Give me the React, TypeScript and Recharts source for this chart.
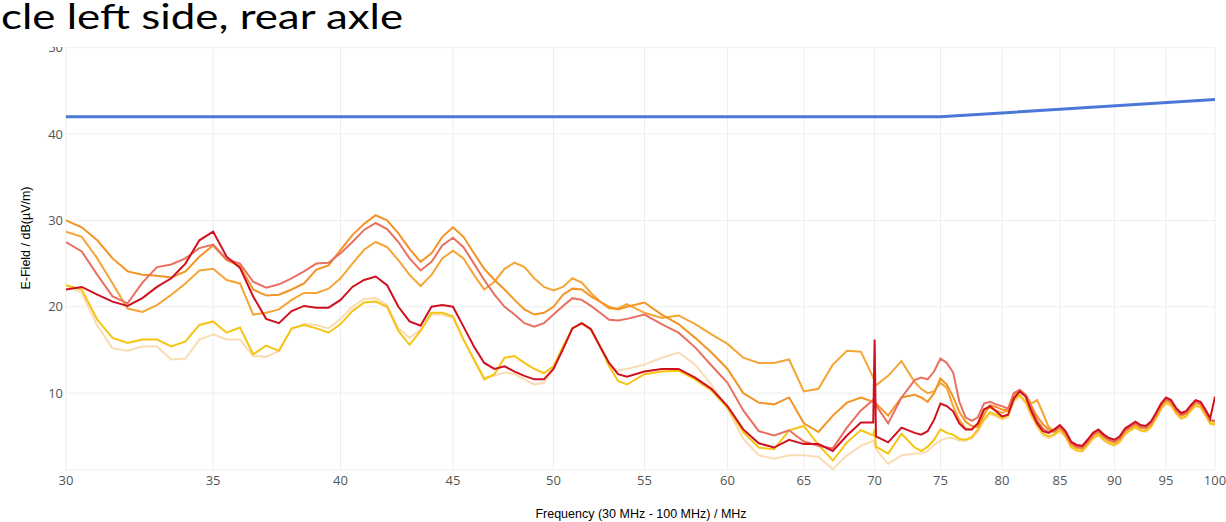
import React from 'react';
import { LineChart, Line, XAxis, YAxis, CartesianGrid } from 'recharts';

// frequency grid in MHz (log axis)
const freqs = [
  30, 30.5, 31, 31.5, 32, 32.5, 33, 33.5, 34, 34.5,
  35, 35.5, 36, 36.5, 37, 37.5, 38, 38.5, 39, 39.5,
  40, 40.5, 41, 41.5, 42, 42.5, 43, 43.5, 44, 44.5,
  45, 45.5, 46, 46.5, 47, 47.5, 48, 48.5, 49, 49.5,
  50, 50.5, 51, 51.5, 52, 52.5, 53, 53.5, 54,
  55, 56, 57, 58, 59, 60, 61, 62, 63, 64, 65, 66, 67, 68, 69,
  69.9, 70, 70.1, 71, 72, 73,
  73.5, 74, 74.5, 75, 75.5, 76, 76.5, 77, 77.5, 78, 78.5, 79, 79.5, 80, 80.5, 81, 81.5, 82, 82.5, 83, 83.5, 84,
  84.5, 85, 85.5, 86, 86.5, 87, 87.5, 88, 88.5, 89, 89.5, 90, 90.5, 91, 91.5, 92,
  92.5, 93, 93.5, 94, 94.5, 95, 95.5, 96, 96.5, 97, 97.5, 98, 98.5, 99, 99.5, 100,
];

const red = [
  22.0, 22.3, 21.4, 20.6, 20.1, 21.0, 22.3, 23.3, 25.0, 27.7,
  28.7, 25.8, 24.5, 21.2, 18.6, 18.1, 19.5, 20.1, 19.9, 19.9,
  20.8, 22.3, 23.1, 23.5, 22.5, 20.0, 18.3, 17.8, 20.0, 20.2,
  20.0, 17.7, 15.4, 13.5, 12.8, 13.1, 12.5, 12.0, 11.6, 11.6,
  12.8, 15.1, 17.5, 18.1, 17.4, 15.4, 13.5, 12.2, 11.9,
  12.5, 12.8, 12.8, 11.8, 10.5, 8.5, 5.8, 4.2, 3.7, 4.6, 4.1, 4.1, 3.3, 5.1, 6.6,
  6.6, 16.2, 5.0, 4.3, 6.0, 5.4,
  5.2, 5.6, 6.9, 8.8, 8.5, 7.9, 6.5, 5.8, 5.8, 6.5, 8.1, 8.5, 7.9, 7.3, 7.5, 9.4, 10.2, 9.6, 7.9, 6.5, 5.6, 5.4,
  5.8, 6.3, 5.6, 4.4, 4.0, 3.9, 4.6, 5.4, 5.8, 5.2, 4.8, 4.6, 5.0, 5.9, 6.3, 6.7,
  6.3, 6.2, 6.7, 7.7, 8.8, 9.5, 9.2, 8.3, 7.7, 7.9, 8.6, 9.2, 9.0, 8.1, 7.1, 9.6,
];

const salmon = [
  27.5, 26.4, 23.7, 21.2, 20.4, 22.8, 24.6, 24.9, 25.6, 26.8,
  27.2, 25.5, 25.0, 22.9, 22.2, 22.6, 23.3, 24.1, 25.0, 25.1,
  26.2, 27.5, 28.9, 29.7, 29.0, 27.5, 25.6, 24.2, 25.2, 27.1,
  28.0, 26.9, 25.0, 23.1, 21.4, 20.0, 19.1, 18.1, 17.7, 18.1,
  19.1, 20.1, 21.0, 20.8, 20.1, 19.3, 18.5, 18.4, 18.6,
  19.1, 18.0, 17.0, 15.3, 13.2, 11.2, 8.0, 5.6, 5.1, 5.7, 4.4, 3.9, 3.6, 6.0, 8.0,
  9.2, 9.0, 8.6, 6.5, 9.5, 11.5,
  11.8, 11.6, 12.5, 14.0, 13.5, 12.4, 9.0, 7.2, 6.8, 7.2, 8.8, 9.0, 8.7, 8.5, 8.2, 10.0, 10.4, 9.8, 8.3, 6.8, 5.9, 5.5,
  5.6, 6.1, 5.4, 4.2, 3.8, 3.7, 4.4, 5.2, 5.6, 5.0, 4.6, 4.4, 4.8, 5.7, 6.1, 6.5,
  6.1, 6.0, 6.5, 7.5, 8.6, 9.3, 9.0, 8.1, 7.5, 7.7, 8.4, 9.0, 8.8, 7.9, 6.9, 6.8,
];

const orangeA = [
  30.0, 29.2, 27.7, 25.6, 24.1, 23.7, 23.6, 23.4, 24.1, 25.8,
  27.1, 25.4, 24.7, 22.0, 21.3, 21.4, 22.0, 22.7, 24.3, 24.8,
  26.6, 28.3, 29.6, 30.6, 30.0, 28.5, 26.7, 25.2, 26.2, 28.1,
  29.2, 28.1, 26.2, 24.4, 23.1, 22.0, 20.8, 19.7, 19.1, 19.3,
  20.0, 21.4, 22.1, 22.0, 21.2, 20.6, 20.0, 19.7, 20.0,
  20.5, 19.1, 18.0, 16.4, 14.7, 12.8, 10.0, 8.9, 8.7, 9.5, 6.5, 5.5, 7.4, 8.9, 9.5,
  9.0, 8.9, 8.8, 7.4, 9.5, 9.8,
  9.5, 9.0, 10.0, 11.7, 11.0, 9.6, 7.8, 6.7, 6.2, 6.1, 7.5, 8.6, 8.4, 8.1, 8.0, 10.0, 10.2, 9.8, 8.5, 7.3, 6.4, 5.8,
  5.5, 6.0, 5.3, 4.1, 3.7, 3.6, 4.3, 5.1, 5.5, 4.9, 4.5, 4.3, 4.7, 5.6, 6.0, 6.4,
  6.0, 5.9, 6.4, 7.4, 8.5, 9.2, 8.9, 8.0, 7.4, 7.6, 8.3, 8.9, 8.7, 7.8, 6.8, 6.7,
];

const orangeB = [
  28.7, 28.1, 25.6, 22.7, 19.8, 19.4, 20.2, 21.4, 22.7, 24.2,
  24.4, 23.1, 22.7, 19.1, 19.3, 19.7, 20.8, 21.6, 21.6, 22.1,
  23.3, 25.0, 26.6, 27.5, 26.9, 25.4, 23.7, 22.4, 23.7, 25.6,
  26.5, 25.6, 23.7, 22.0, 22.9, 24.4, 25.1, 24.6, 23.3, 22.3,
  21.9, 22.3, 23.3, 22.8, 21.6, 20.6, 19.8, 19.8, 20.3,
  19.3, 18.7, 19.0, 18.0, 16.8, 15.7, 14.1, 13.5, 13.5, 13.9, 10.2, 10.5, 13.3, 14.9, 14.8,
  11.8, 11.3, 10.9, 12.0, 13.7, 11.3,
  10.5, 10.0, 10.2, 11.2, 10.6, 8.5, 6.9, 5.9, 5.8, 6.5, 8.1, 8.3, 8.0, 7.7, 8.0, 9.8, 10.3, 9.8, 8.8, 9.2, 7.7, 6.1,
  5.6, 6.1, 5.3, 4.1, 3.7, 3.6, 4.3, 5.1, 5.5, 4.9, 4.5, 4.3, 4.7, 5.6, 6.0, 6.4,
  6.0, 5.9, 6.4, 7.4, 8.5, 9.2, 8.9, 8.0, 7.4, 7.6, 8.3, 8.9, 8.7, 7.8, 6.8, 6.7,
];

const yellow = [
  22.5, 22.0, 18.5, 16.4, 15.8, 16.2, 16.2, 15.4, 16.0, 17.9,
  18.3, 17.0, 17.6, 14.5, 15.5, 14.9, 17.5, 17.9, 17.5, 17.0,
  18.0, 19.5, 20.5, 20.6, 20.0, 17.2, 15.6, 17.2, 19.3, 19.3,
  18.9, 16.2, 13.9, 11.6, 12.2, 14.1, 14.3, 13.5, 12.8, 12.3,
  13.1, 15.4, 17.5, 18.1, 17.4, 15.4, 13.1, 11.4, 11.0,
  12.2, 12.5, 12.6, 11.6, 10.3, 8.3, 5.5, 3.7, 3.5, 5.7, 6.2, 4.0, 2.2, 4.3, 5.7,
  5.1, 5.8, 3.8, 3.0, 5.3, 3.7,
  3.3, 3.8, 4.6, 5.8, 5.4, 5.2, 4.7, 4.6, 4.9, 5.8, 7.0, 7.8, 7.5, 7.1, 7.4, 9.2, 9.8, 9.0, 7.5, 6.3, 5.3, 5.0,
  5.2, 5.7, 5.0, 3.8, 3.4, 3.3, 4.0, 4.8, 5.2, 4.6, 4.2, 4.0, 4.4, 5.3, 5.7, 6.1,
  5.7, 5.6, 6.1, 7.1, 8.2, 8.9, 8.6, 7.7, 7.1, 7.3, 8.0, 8.6, 8.4, 7.5, 6.5, 6.4,
];

const pale = [
  22.5, 21.6, 17.8, 15.2, 14.9, 15.4, 15.4, 13.9, 14.0, 16.2,
  16.8, 16.2, 16.2, 14.3, 14.2, 14.9, 17.4, 18.0, 17.9, 17.5,
  18.6, 20.0, 20.9, 21.0, 20.2, 17.5, 16.4, 17.4, 19.1, 19.1,
  18.7, 16.2, 13.9, 11.8, 12.0, 12.4, 12.2, 11.6, 11.0, 11.2,
  12.8, 15.2, 17.5, 18.0, 17.3, 15.4, 13.3, 12.6, 12.8,
  13.3, 14.1, 14.7, 13.3, 11.0, 8.2, 4.7, 2.8, 2.4, 2.8, 2.8, 2.6, 1.2, 2.8, 3.9,
  4.5, 4.0, 3.5, 1.8, 2.8, 3.0,
  3.0, 3.3, 4.0, 4.5, 4.8, 4.8, 4.5, 4.5, 4.8, 5.5, 6.8, 7.6, 7.3, 6.9, 7.2, 9.0, 9.6, 8.8, 7.3, 6.0, 5.1, 4.8,
  5.1, 5.6, 4.9, 3.7, 3.3, 3.2, 3.9, 4.7, 5.1, 4.5, 4.1, 3.9, 4.3, 5.2, 5.6, 6.0,
  5.6, 5.5, 6.0, 7.0, 8.1, 8.8, 8.5, 7.6, 7.0, 7.2, 7.9, 8.5, 8.3, 7.4, 6.4, 6.3,
];

// limit line
const limitFreqs = [30, 75, 100];
const limitValues = [42, 42, 44];

const xTicks = [30, 35, 40, 45, 50, 55, 60, 65, 70, 75, 80, 85, 90, 95, 100];
const yTicks = [10, 20, 30, 40, 50];

const tickStyle = { fill: '#555', fontSize: 13, fontFamily: 'Open Sans' };

export default function App() {
  const rows = freqs.map((f, i) => ({
    f,
    pale: pale[i],
    yellow: yellow[i],
    orangeB: orangeB[i],
    orangeA: orangeA[i],
    salmon: salmon[i],
    red: red[i],
  }));
  const limit = limitFreqs.map((f, i) => ({ f, v: limitValues[i] }));

  return (
    <div style={{ position: 'absolute', left: 0, top: 0, width: 1226, height: 522, background: '#fff', overflow: 'hidden' }}>
      <LineChart width={1226} height={522} data={rows} margin={{ top: 47.7, right: 11, bottom: 22, left: 26 }}>
        <CartesianGrid stroke="#eeeeee" />
        <XAxis
          dataKey="f"
          type="number"
          scale="log"
          domain={[30, 100]}
          ticks={xTicks}
          allowDataOverflow
          axisLine={false}
          tickLine={false}
          tickSize={6}
          tickMargin={0}
          height={30}
          tick={tickStyle}
        />
        <YAxis
          type="number"
          domain={[1.1, 50]}
          ticks={yTicks}
          allowDataOverflow
          axisLine={false}
          tickLine={false}
          tickSize={3}
          tickMargin={0}
          width={40}
          tick={tickStyle}
        />
        <Line dataKey="pale" stroke="#f9dcb2" strokeWidth={2} dot={false} isAnimationActive={false} />
        <Line dataKey="yellow" stroke="#f6c412" strokeWidth={2} dot={false} isAnimationActive={false} />
        <Line dataKey="orangeB" stroke="#f5a534" strokeWidth={2} dot={false} isAnimationActive={false} />
        <Line dataKey="orangeA" stroke="#f39424" strokeWidth={2} dot={false} isAnimationActive={false} />
        <Line dataKey="salmon" stroke="#e96f60" strokeWidth={2} dot={false} isAnimationActive={false} />
        <Line dataKey="red" stroke="#d0101f" strokeWidth={2} dot={false} isAnimationActive={false} />
        <Line data={limit} dataKey="v" stroke="#4b78d6" strokeWidth={3} dot={false} isAnimationActive={false} />
      </LineChart>

      <div
        style={{
          position: 'absolute', left: 26, top: 238, transform: 'translate(-50%, -50%) rotate(-90deg)',
          fontFamily: 'Liberation Sans, Arial, sans-serif', fontSize: 12.5, color: '#000', whiteSpace: 'nowrap',
        }}
      >
        E-Field / dB(µV/m)
      </div>
      <div
        style={{
          position: 'absolute', left: 641, top: 514, transform: 'translate(-50%, -50%)',
          fontFamily: 'Liberation Sans, Arial, sans-serif', fontSize: 12.5, color: '#000', whiteSpace: 'nowrap',
        }}
      >
        Frequency (30 MHz - 100 MHz) / MHz
      </div>

      <div style={{ position: 'absolute', left: 0, top: 0, width: 430, height: 46.5, background: '#fff' }} />
      <div
        style={{
          position: 'absolute', left: 1, top: 0, fontFamily: 'Lato, sans-serif', fontSize: 34,
          lineHeight: '32px', color: '#000', whiteSpace: 'nowrap',
          transform: 'scaleX(1.29)', transformOrigin: 'left top',
        }}
      >
        cle left side, rear axle
      </div>
    </div>
  );
}
